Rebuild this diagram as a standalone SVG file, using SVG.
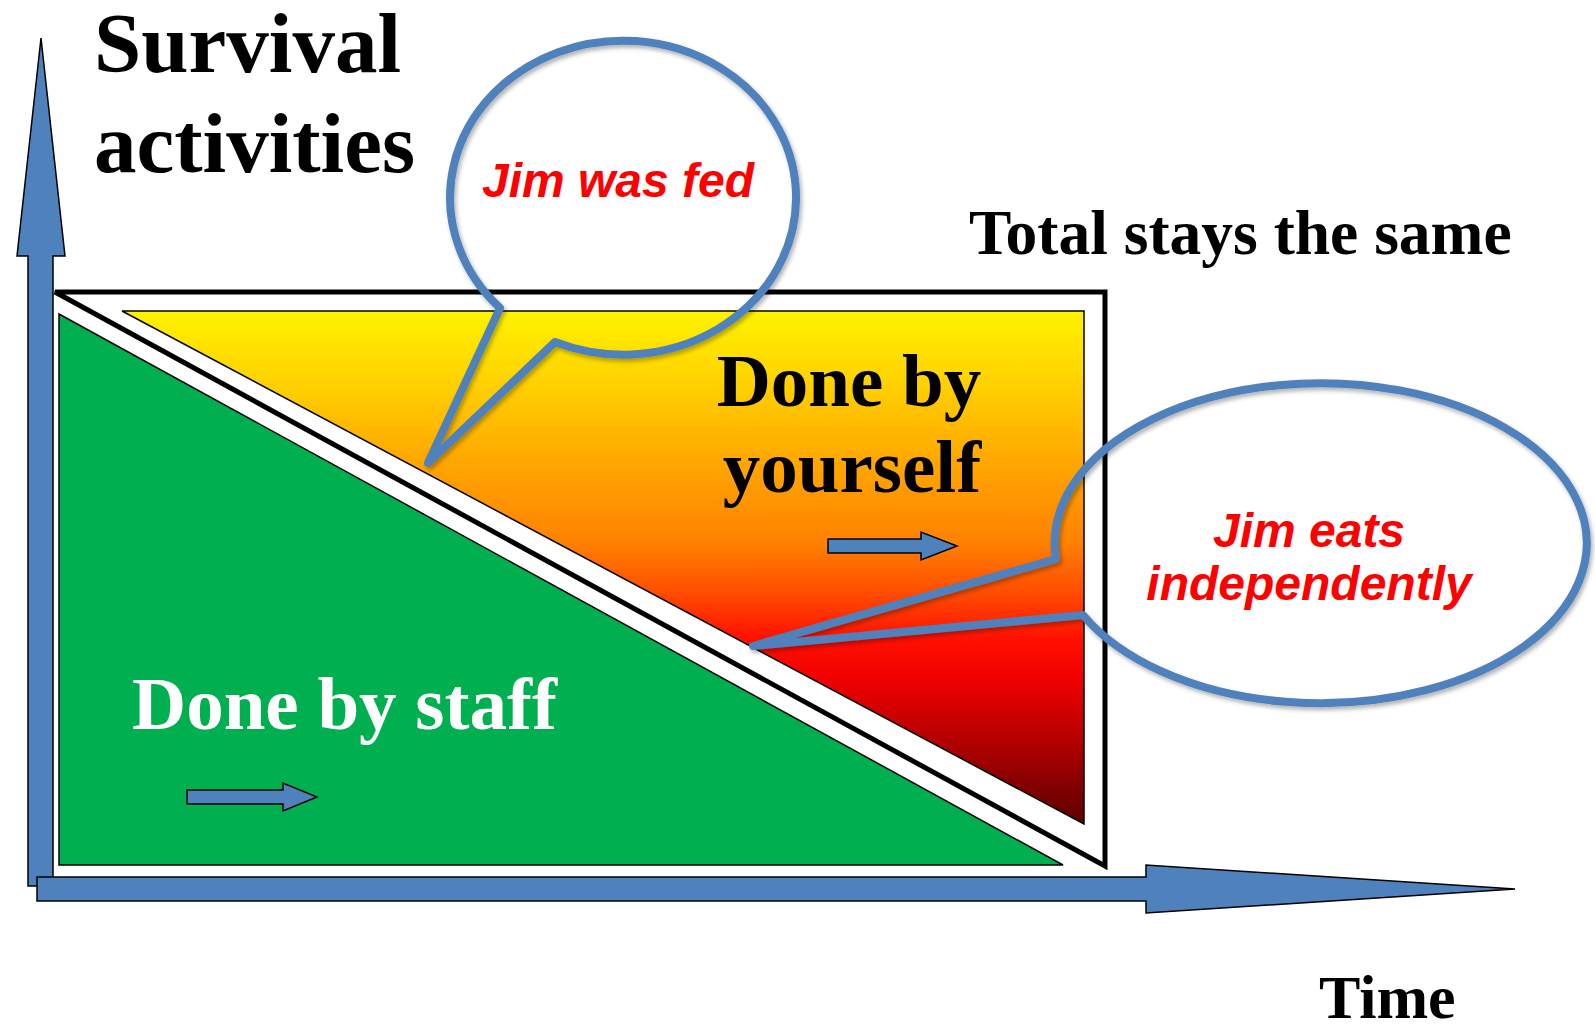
<svg xmlns="http://www.w3.org/2000/svg" width="1595" height="1030" viewBox="0 0 1595 1030">
  <defs>
    <linearGradient id="fire" gradientUnits="userSpaceOnUse" x1="0" y1="311" x2="0" y2="824">
      <stop offset="0" stop-color="#FFF200"/>
      <stop offset="0.13" stop-color="#FFD400"/>
      <stop offset="0.29" stop-color="#FFA800"/>
      <stop offset="0.45" stop-color="#FF8200"/>
      <stop offset="0.55" stop-color="#FF4C00"/>
      <stop offset="0.64" stop-color="#FF1000"/>
      <stop offset="0.72" stop-color="#F00000"/>
      <stop offset="0.86" stop-color="#A80000"/>
      <stop offset="1" stop-color="#5C0000"/>
    </linearGradient>
    <filter id="shadow" x="-10%" y="-10%" width="120%" height="120%">
      <feDropShadow dx="2" dy="3" stdDeviation="2" flood-color="#000" flood-opacity="0.3"/>
    </filter>
    <style>
      .blue { fill: #4F81BD; stroke: #000; stroke-width: 1.5; stroke-linejoin: miter; }
      .title { font-family: "Liberation Serif", "Times New Roman", serif; font-weight: bold; fill: #000; }
      .say { font-family: "Liberation Sans", Arial, sans-serif; font-weight: bold; font-style: italic; fill: #FF0000; font-size: 48px; text-anchor: middle; }
      .bubble { fill: none; stroke: #4F81BD; stroke-width: 8; stroke-linejoin: round; }
    </style>
  </defs>

  <rect x="0" y="0" width="1595" height="1030" fill="#FFFFFF"/>

  <g id="frame">
    <polygon points="55,292 1105,292 1105,866" fill="#FFFFFF" stroke="#000" stroke-width="5" stroke-linejoin="miter"/>
  </g>

  <g id="staff-region">
    <polygon points="59,314 1063,865 59,865" fill="#00B050" stroke="#000" stroke-width="1.5"/>
    <text class="title" x="132" y="729" font-size="75" style="fill:#FFFFFF">Done by staff</text>
  </g>

  <g id="yourself-region">
    <polygon points="122,311 1084,311 1084,824" fill="url(#fire)" stroke="#000" stroke-width="1.5"/>
    <text class="title" x="849" y="406" font-size="75" text-anchor="middle">Done by</text>
    <text class="title" x="852" y="492" font-size="75" text-anchor="middle">yourself</text>
  </g>

  <g id="axes">
    <polygon class="blue" points="41,38 65,256 53,256 53,886 28,886 28,256 17,256"/>
    <polygon class="blue" points="37,877 1146,877 1146,865 1515,889 1146,913 1146,901 37,901"/>
  </g>

  <g id="connectors">
    <polygon class="blue" points="187,790 283,790 283,783 317,797 283,811 283,804 187,804"/>
    <polygon class="blue" points="828,539 921,539 921,532 957,546 921,560 921,553 828,553"/>
  </g>

  <g id="label-survival">
    <text class="title" x="94" y="72" font-size="85">Survival</text>
    <text class="title" x="94" y="172" font-size="85">activities</text>
  </g>

  <g id="label-total">
    <text class="title" x="969" y="254" font-size="63.5">Total stays the same</text>
  </g>

  <g id="label-time">
    <text class="title" x="1319" y="1018" font-size="62">Time</text>
  </g>

  <g id="bubble-fed">
    <path class="bubble" filter="url(#shadow)" d="M 500,308 L 428,463 L 555,342 A 173 157 0 1 0 500,308 Z"/>
    <text class="say" x="618" y="197">Jim was fed</text>
  </g>

  <g id="bubble-eats">
    <path class="bubble" filter="url(#shadow)" d="M 1056,559 L 753,646 L 1083,615 A 266 160 0 1 0 1056,559 Z"/>
    <text class="say" x="1309" y="547">Jim eats</text>
    <text class="say" x="1309" y="600">independently</text>
  </g>
</svg>
